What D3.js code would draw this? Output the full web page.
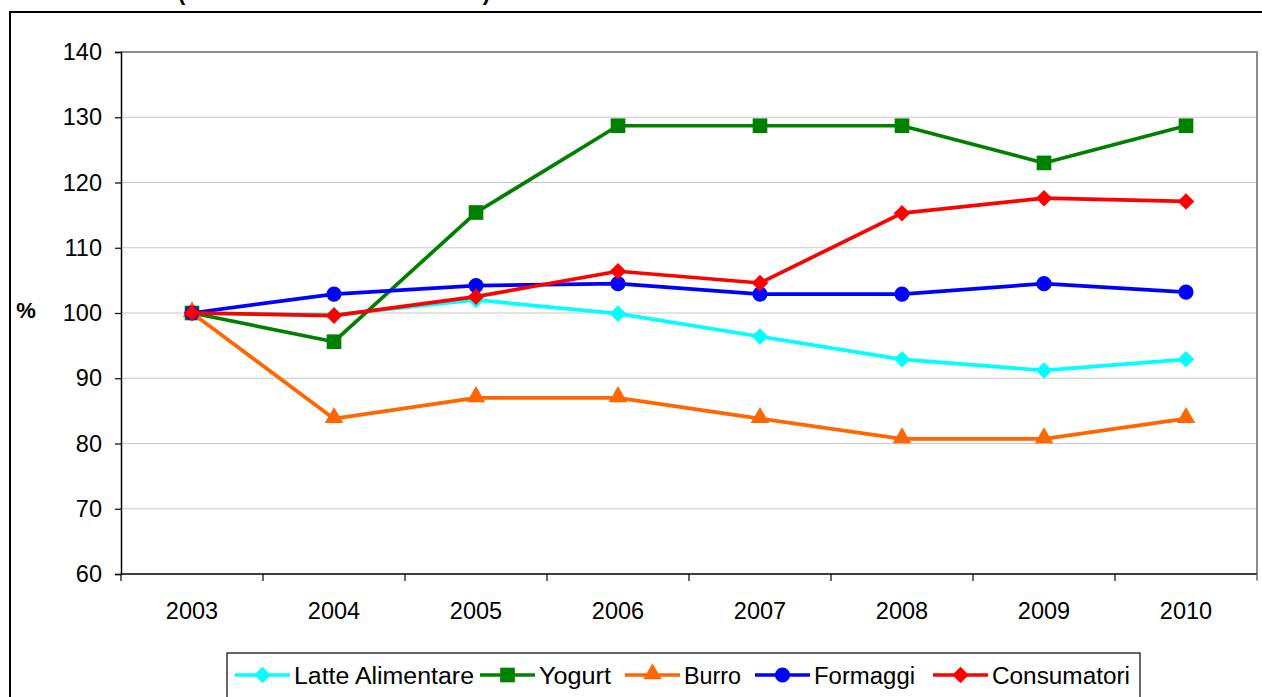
<!DOCTYPE html>
<html>
<head>
<meta charset="utf-8">
<script src="https://cdn.jsdelivr.net/npm/d3@7"></script>
<style>
  html, body { margin: 0; padding: 0; background: #fff; }
  svg { display: block; font-family: "Liberation Sans", Arial, sans-serif; }
</style>
</head>
<body>
<svg id="chart" width="1262" height="697"></svg>
<script>
// Price indices, 2003 = 100
const years = ["2003", "2004", "2005", "2006", "2007", "2008", "2009", "2010"];
const latteAlimentare = [100, 99.7, 102.0, 99.9, 96.4, 92.9, 91.2, 92.9];
const yogurt = [100, 95.6, 115.4, 128.7, 128.7, 128.7, 123.0, 128.7];
const burro = [100, 83.8, 87.0, 87.0, 83.8, 80.7, 80.7, 83.8];
const formaggi = [100, 102.9, 104.2, 104.5, 102.9, 102.9, 104.5, 103.2];
const consumatori = [100, 99.6, 102.5, 106.4, 104.6, 115.3, 117.6, 117.1];
const yTicks = [60, 70, 80, 90, 100, 110, 120, 130, 140];

const series = [
  { name: "Latte Alimentare", values: latteAlimentare, color: "#00ffff", symbol: "diamond" },
  { name: "Yogurt", values: yogurt, color: "#008000", symbol: "square" },
  { name: "Burro", values: burro, color: "#ff6600", symbol: "triangle" },
  { name: "Formaggi", values: formaggi, color: "#0000ff", symbol: "circle" },
  { name: "Consumatori", values: consumatori, color: "#ff0000", symbol: "diamond" }
];

const svg = d3.select("#chart");
const plot = { left: 121, top: 52, right: 1257, bottom: 574 };

const x = d3.scaleBand().domain(years).range([plot.left, plot.right]);
const y = d3.scaleLinear().domain([60, 140]).range([plot.bottom, plot.top]);

// Outer frame
svg.append("path")
  .attr("d", "M10,697 L10,12 L1262,12")
  .attr("fill", "none").attr("stroke", "#000").attr("stroke-width", 2);

// Title line, sitting above the frame
svg.append("text")
  .attr("x", 178).attr("y", -0.5)
  .attr("font-size", 22).attr("font-weight", "bold")
  .attr("textLength", 312).attr("lengthAdjust", "spacing")
  .text("(numeri indici 2003 = 100)");

// Gridlines
svg.append("g").selectAll("line")
  .data(yTicks.filter(d => d > 60 && d < 140))
  .join("line")
  .attr("x1", plot.left).attr("x2", plot.right)
  .attr("y1", d => y(d)).attr("y2", d => y(d))
  .attr("stroke", "#c8c8c8").attr("stroke-width", 1.2);

// Plot area frame (top and right)
svg.append("path")
  .attr("d", `M${plot.left},${plot.top} L${plot.right},${plot.top} L${plot.right},${plot.bottom + 6}`)
  .attr("fill", "none").attr("stroke", "#8c8c8c").attr("stroke-width", 2);

// Y axis
const yAxis = svg.append("g")
  .attr("transform", `translate(${plot.left},0)`)
  .call(d3.axisLeft(y).tickValues(yTicks).tickSize(6).tickPadding(13));
yAxis.select(".domain").attr("stroke", "#000").attr("stroke-width", 1.5);
yAxis.selectAll(".tick line").attr("stroke", "#000").attr("stroke-width", 1.2);
yAxis.selectAll(".tick text").attr("font-size", 23.5).attr("fill", "#000")
  .attr("font-family", "Liberation Sans, Arial, sans-serif");

// X axis with ticks on category boundaries
const xAxisG = svg.append("g").attr("transform", `translate(0,${plot.bottom})`);
xAxisG.append("line")
  .attr("x1", plot.left).attr("x2", plot.right)
  .attr("stroke", "#000").attr("stroke-width", 1.5);
const boundaries = years.map(d => x(d)).concat([x(years[years.length - 1]) + x.bandwidth()]);
xAxisG.selectAll("line.tick").data(boundaries).join("line")
  .attr("class", "tick")
  .attr("x1", d => d).attr("x2", d => d)
  .attr("y1", 0).attr("y2", 7)
  .attr("stroke", d => d >= plot.right - 1 ? "#8c8c8c" : "#000").attr("stroke-width", 1.2);
xAxisG.selectAll("text").data(years).join("text")
  .attr("x", d => x(d) + x.bandwidth() / 2)
  .attr("y", 45)
  .attr("text-anchor", "middle")
  .attr("font-size", 23.5).attr("fill", "#000")
  .text(d => d);

// Y axis title
svg.append("text")
  .attr("x", 26).attr("y", 318)
  .attr("text-anchor", "middle")
  .attr("font-size", 22).attr("font-weight", "bold")
  .text("%");

// Marker shapes
function markerPath(symbol) {
  if (symbol === "diamond") return d3.symbol(d3.symbolDiamond2, 175)();
  if (symbol === "square") return d3.symbol(d3.symbolSquare, 215)();
  if (symbol === "triangle") return d3.symbol(d3.symbolTriangle, 150)();
  return d3.symbol(d3.symbolCircle, 180)();
}

const line = d3.line()
  .x((d, i) => x(years[i]) + x.bandwidth() / 2)
  .y(d => y(d));

series.forEach(s => {
  const g = svg.append("g");
  g.append("path")
    .attr("d", line(s.values))
    .attr("fill", "none")
    .attr("stroke", s.color)
    .attr("stroke-width", 3.7)
    .attr("stroke-linejoin", "round");
  g.selectAll("path.marker").data(s.values).join("path")
    .attr("class", "marker")
    .attr("d", markerPath(s.symbol))
    .attr("transform", (d, i) => `translate(${x(years[i]) + x.bandwidth() / 2},${y(d) + (s.symbol === "triangle" ? -1 : 0)})`)
    .attr("fill", s.color);
});

// Legend
const legend = svg.append("g");
legend.append("rect")
  .attr("x", 227).attr("y", 653).attr("width", 913).attr("height", 60)
  .attr("fill", "#fff").attr("stroke", "#000").attr("stroke-width", 1.2);
const legendX = [235, 480, 625, 755, 933];
const legendTextWidth = [180, 72, 57, 101, 138];
series.forEach((s, i) => {
  const lx = legendX[i];
  const ly = 675;
  legend.append("line")
    .attr("x1", lx).attr("x2", lx + 55).attr("y1", ly).attr("y2", ly)
    .attr("stroke", s.color).attr("stroke-width", 3.7);
  legend.append("path")
    .attr("d", markerPath(s.symbol))
    .attr("transform", `translate(${lx + 27.5},${ly + (s.symbol === "triangle" ? -1 : 0)})`)
    .attr("fill", s.color);
  legend.append("text")
    .attr("x", lx + 59).attr("y", ly + 8.5)
    .attr("font-size", 23.5).attr("fill", "#000")
    .attr("textLength", legendTextWidth[i]).attr("lengthAdjust", "spacingAndGlyphs")
    .text(s.name);
});
</script>
</body>
</html>
